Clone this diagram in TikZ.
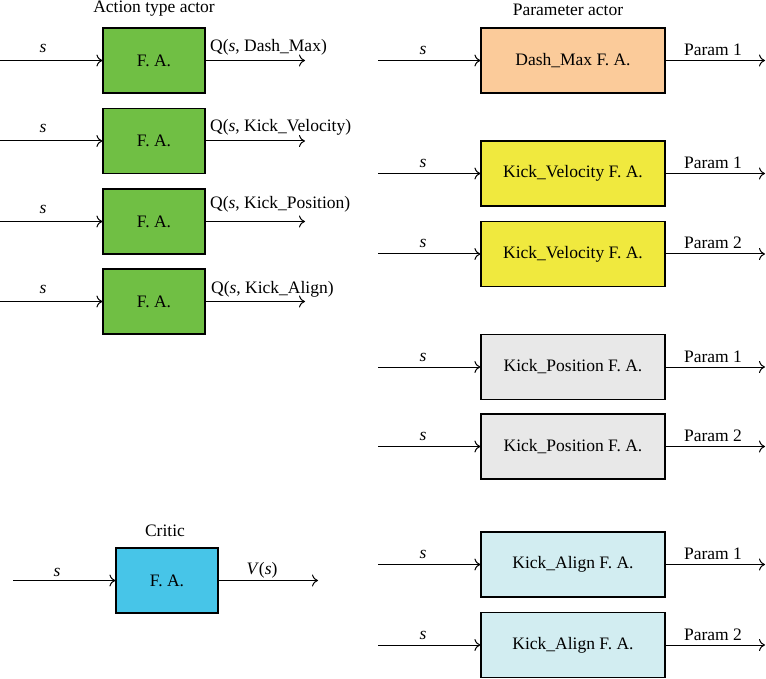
\documentclass[tikz,border=0pt]{standalone}
\usepackage{fontspec}
\setmainfont{Liberation Serif}
\usetikzlibrary{arrows.meta}
\definecolor{cgreen}{RGB}{112,191,68}
\definecolor{corange}{RGB}{251,203,154}
\definecolor{cyellow}{RGB}{240,233,62}
\definecolor{cgray}{RGB}{232,232,232}
\definecolor{ccyan}{RGB}{210,237,241}
\definecolor{cblue}{RGB}{71,197,232}
\begin{document}
\begin{tikzpicture}[x=1pt,y=-1pt,
  every node/.style={font=\fontsize{17.5}{20}\selectfont},
  box/.style={draw, line width=1.1pt, minimum height=65pt, inner sep=0pt},
  lbox/.style={box, minimum width=102pt},
  rbox/.style={box, minimum width=184pt},
  arr/.style={-{To[length=6pt,width=12pt]}, line width=1pt},
  lab/.style={anchor=base, inner sep=0pt},
  qlab/.style={anchor=base west, inner sep=0pt}]
\useasboundingbox (0,0) rectangle (766,679);

% titles
\node[lab] (t1) at (154,13) {Action type actor};
\node[lab] (t2) at (568,16) {Parameter actor};
\node[lab] (t3) at (165,536) {Critic};

% left column
\node[lbox, fill=cgreen] (L1) at (154,60.5) {F. A.};
\node[lbox, fill=cgreen] (L2) at (154,141) {F. A.};
\node[lbox, fill=cgreen] (L3) at (154,221.5) {F. A.};
\node[lbox, fill=cgreen] (L4) at (154,301.5) {F. A.};

\foreach \n/\y in {1/60.5, 2/141, 3/221.5, 4/301.5}{
  \coordinate (Lin\n) at (0,\y);
  \coordinate (Lout\n) at (305,\y);
  \draw[arr] (Lin\n) -- (L\n.west);
  \draw[arr] (L\n.east) -- (Lout\n);
  \node[lab] (Ls\n) at (43,\y-8) {\textit{s}};
}
\node[qlab] (Q1) at (210,52) {Q(\textit{s}, Dash\_Max)};
\node[qlab] (Q2) at (210,132) {Q(\textit{s}, Kick\_Velocity)};
\node[qlab] (Q3) at (210,209) {Q(\textit{s}, Kick\_Position)};
\node[qlab] (Q4) at (211,294) {Q(\textit{s}, Kick\_Align)};

% critic
\node[lbox, fill=cblue] (C) at (167,580.5) {F. A.};
\coordinate (Cin) at (13,580.5);
\coordinate (Cout) at (318,580.5);
\draw[arr] (Cin) -- (C.west);
\draw[arr] (C.east) -- (Cout);
\node[lab] (Cs) at (57,576) {\textit{s}};
\node[lab] (Cv) at (262,574) {\textit{V}(\textit{s})};

% right column
\node[rbox, fill=corange] (R1) at (573,60.5) {Dash\_Max F. A.};
\node[rbox, fill=cyellow] (R2) at (573,173.5) {Kick\_Velocity F. A.};
\node[rbox, fill=cyellow] (R3) at (573,254) {Kick\_Velocity F. A.};
\node[rbox, fill=cgray] (R4) at (573,367) {Kick\_Position F. A.};
\node[rbox, fill=cgray] (R5) at (573,446.5) {Kick\_Position F. A.};
\node[rbox, fill=ccyan] (R6) at (573,564.5) {Kick\_Align F. A.};
\node[rbox, fill=ccyan] (R7) at (573,645) {Kick\_Align F. A.};

\foreach \n/\y/\p in {1/60.5/1, 2/173.5/1, 3/254/2, 4/367/1, 5/446.5/2, 6/564.5/1, 7/645/2}{
  \coordinate (Rin\n) at (378,\y);
  \coordinate (Rout\n) at (765,\y);
  \draw[arr] (Rin\n) -- (R\n.west);
  \draw[arr] (R\n.east) -- (Rout\n);
  \node[lab] (Rs\n) at (423,\y-6) {\textit{s}};
  \node[lab] (Rp\n) at (713,\y-5) {Param \p};
}
\end{tikzpicture}
\end{document}
